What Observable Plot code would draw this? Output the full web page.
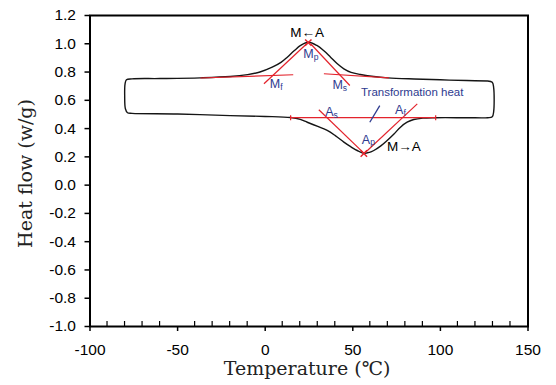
<!DOCTYPE html>
<html>
<head>
<meta charset="utf-8">
<script src="https://cdn.jsdelivr.net/npm/d3@7"></script>
<script src="https://cdn.jsdelivr.net/npm/@observablehq/plot@0.6"></script>
<style>
  html, body { margin: 0; padding: 0; background: #fff; }
</style>
</head>
<body>
<div id="chart"></div>
<script>
// ---- data ----
// cooling branch (upper), right to left
const coolT  = [127, 115, 100, 85, 70, 62, 54.4, 49, 44.9, 41, 37.3, 33.5, 29.5, 24.6, 20.2, 16.5, 12.6, 9, 4, -3, -10, -20, -37, -60, -76];
const coolHF = [0.737, 0.740, 0.745, 0.751, 0.759, 0.768, 0.783, 0.798, 0.823, 0.860, 0.905, 0.950, 0.988, 1.011, 0.988, 0.950, 0.905, 0.868, 0.834, 0.800, 0.782, 0.768, 0.759, 0.754, 0.752];
// left end of the loop
const leftT  = [-79.2, -80.0, -80.2, -79.8, -78.6, -76];
const leftHF = [0.745, 0.715, 0.630, 0.540, 0.512, 0.508];
// heating branch (lower), left to right
const heatT  = [-50, -20, 0, 14.5, 20, 24, 30, 35.4, 40, 44.9, 49, 52.5, 56.3, 59.5, 62, 66, 69.6, 73.5, 77.2, 81, 84.8, 90, 97, 115, 127];
const heatHF = [0.503, 0.492, 0.486, 0.478, 0.465, 0.445, 0.415, 0.387, 0.350, 0.304, 0.270, 0.245, 0.226, 0.232, 0.245, 0.278, 0.316, 0.362, 0.410, 0.445, 0.464, 0.474, 0.477, 0.477, 0.477];
// right end of the loop
const rightT  = [129.6, 130.4, 130.4, 129.6, 127];
const rightHF = [0.484, 0.520, 0.690, 0.728, 0.737];

// red construction lines [T1, HF1, T2, HF2]
const redLines = [
  [-37, 0.758, 16, 0.781],     // cooling baseline left
  [33.5, 0.788, 70.6, 0.759],  // cooling baseline right
  [-0.7, 0.717, 24.6, 1.011],  // Mf tangent
  [25.9, 1.000, 48.3, 0.705],  // Ms tangent
  [14.5, 0.477, 97.3, 0.477],  // heating baseline
  [14.5, 0.459, 14.5, 0.495],  // baseline end tick
  [97.3, 0.459, 97.3, 0.495],  // baseline end tick
  [30.6, 0.533, 56.3, 0.226],  // As tangent
  [57.3, 0.233, 86.8, 0.575]   // Af tangent
];
const peakT = [24.6, 56.3];
const peakHF = [1.008, 0.224];
const pointer = [[65.4, 0.563, 59.7, 0.445]];

// labels
const blackLabels = [
  {t: 24, hf: 1.075, text: "M←A"},
  {t: 79.1, hf: 0.274, text: "M→A"}
];
const blueLabels = [
  {t: 26, hf: 0.929, main: "M", sub: "p"},
  {t: 6.9, hf: 0.717, main: "M", sub: "f"},
  {t: 42.6, hf: 0.710, main: "M", sub: "s"},
  {t: 37.3, hf: 0.516, main: "A", sub: "s"},
  {t: 77.2, hf: 0.528, main: "A", sub: "f"},
  {t: 58.2, hf: 0.321, main: "A", sub: "p"}
];
const noteLabel = [{t: 83.9, hf: 0.657, text: "Transformation heat"}];

const xTicks = [-100, -50, 0, 50, 100, 150];
const xMinor = [-90, -80, -70, -60, -40, -30, -20, -10, 10, 20, 30, 40, 60, 70, 80, 90, 110, 120, 130, 140];
const yTicks = [-1.0, -0.8, -0.6, -0.4, -0.2, 0.0, 0.2, 0.4, 0.6, 0.8, 1.0, 1.2];
const xTitle = "Temperature (℃)";
const yTitle = "Heat flow (w/g)";

// ---- build tables ----
const loop = [];
coolT.forEach((t, i) => loop.push({T: t, HF: coolHF[i]}));
leftT.forEach((t, i) => loop.push({T: t, HF: leftHF[i]}));
heatT.forEach((t, i) => loop.push({T: t, HF: heatHF[i]}));
rightT.forEach((t, i) => loop.push({T: t, HF: rightHF[i]}));

const red = "#e3232c";
const blue = "#2e3a8f";
const sans = "'Liberation Sans', Arial, sans-serif";
const serif = "'DejaVu Serif', 'Noto Sans CJK SC', serif";

const minorTicks = (index, scales, values, dims) => {
  const g = d3.create("svg:g").attr("stroke", "black").attr("stroke-width", 1.2);
  const y0 = dims.height - dims.marginBottom;
  g.selectAll("line").data(xMinor).join("line")
    .attr("x1", d => scales.x(d)).attr("x2", d => scales.x(d))
    .attr("y1", y0).attr("y2", y0 - 5);
  return g.node();
};

const chart = Plot.plot({
  width: 556,
  height: 385,
  marginLeft: 89.5,
  marginRight: 28.5,
  marginTop: 15,
  marginBottom: 59,
  style: {background: "white", color: "black", fontFamily: sans, overflow: "visible"},
  x: {domain: [-100, 150]},
  y: {domain: [-1, 1.2]},
  marks: [
    Plot.axisX({ticks: xTicks, tickSize: 5, tickPadding: 12, fontSize: 15.5, strokeWidth: 1.5, label: null, tickFormat: d => String(d)}),
    Plot.axisY({ticks: yTicks, tickSize: 5, tickPadding: 9, fontSize: 15.5, strokeWidth: 1.5, label: null, tickFormat: d => d.toFixed(1)}),
    minorTicks,
    Plot.line(loop, {x: "T", y: "HF", curve: "catmull-rom", stroke: "#151515", strokeWidth: 1.4}),
    Plot.link(redLines, {x1: d => d[0], y1: d => d[1], x2: d => d[2], y2: d => d[3], stroke: red, strokeWidth: 1.2}),
    Plot.link(pointer, {x1: d => d[0], y1: d => d[1], x2: d => d[2], y2: d => d[3], stroke: blue, strokeWidth: 1.3}),
    Plot.dot(peakT, {x: d => d, y: (d, i) => peakHF[i], symbol: "times", r: 3, stroke: red, strokeWidth: 1.5}),
    Plot.text(blackLabels, {x: "t", y: "hf", text: "text", fill: "black", fontSize: 13.5}),
    Plot.text(blueLabels, {x: "t", y: "hf", text: "main", fill: blue, fontSize: 12.5, textAnchor: "end", dx: 3}),
    Plot.text(blueLabels, {x: "t", y: "hf", text: "sub", fill: blue, fontSize: 8.5, textAnchor: "start", dx: 3, dy: 3}),
    Plot.text(noteLabel, {x: "t", y: "hf", text: "text", fill: blue, fontSize: 11.5}),
    Plot.text([yTitle], {text: d => d, frameAnchor: "left", textAnchor: "middle", lineAnchor: "middle", rotate: -90, dx: -64, dy: 2.5, fontSize: 19, fontFamily: serif, fill: "#222"}),
    Plot.text([xTitle], {text: d => d, frameAnchor: "bottom", textAnchor: "middle", lineAnchor: "middle", dx: -2, dy: 42, fontSize: 19, fontFamily: serif, fill: "#222"}),
    Plot.frame({stroke: "black", strokeWidth: 2})
  ]
});

// make sure tick labels use the intended size and face
d3.select(chart).selectAll('g[aria-label="x-axis tick label"], g[aria-label="y-axis tick label"]')
  .attr("font-size", 15.5).attr("font-family", sans);

document.getElementById("chart").appendChild(chart);
</script>
</body>
</html>
